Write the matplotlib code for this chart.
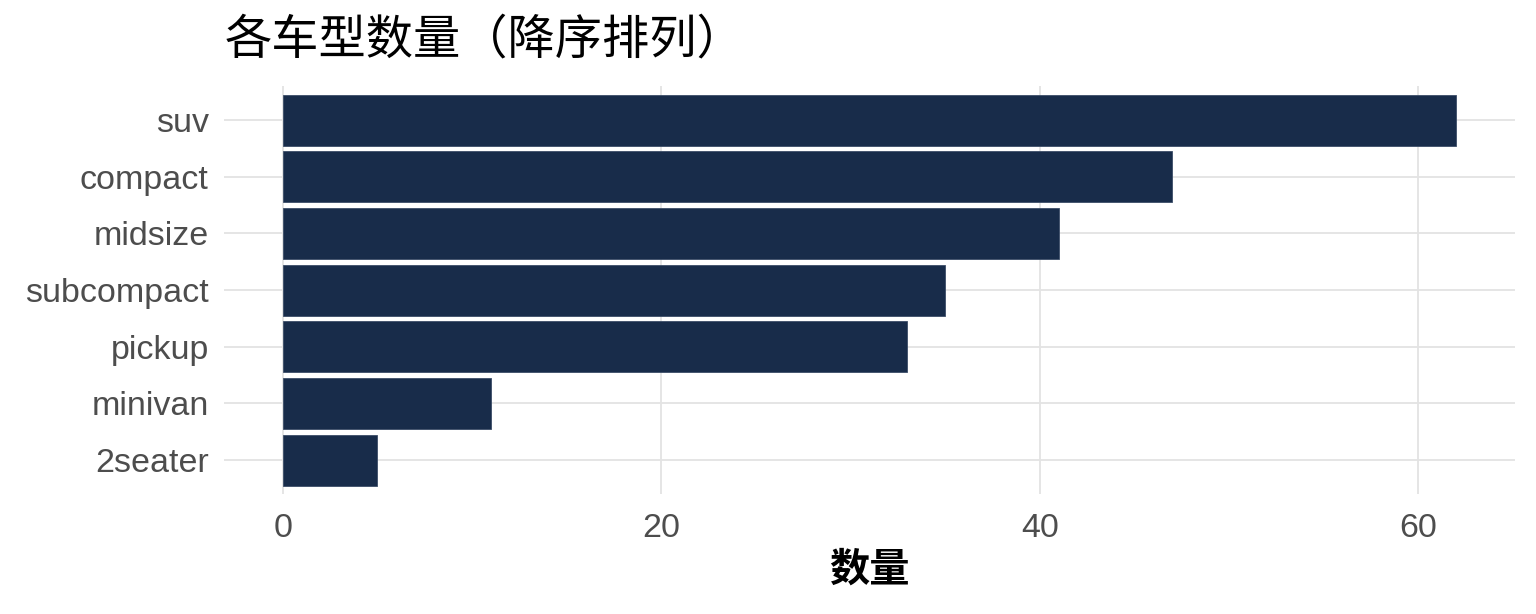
import matplotlib
matplotlib.use('Agg')
import matplotlib.pyplot as plt

plt.rcParams['font.family'] = ['Liberation Sans', 'Noto Sans CJK SC', 'DejaVu Sans']

classes = ['suv', 'compact', 'midsize', 'subcompact', 'pickup', 'minivan', '2seater']
counts = [62, 47, 41, 35, 33, 11, 5]
xticks = [0, 20, 40, 60]

W, H = 1536, 614
fig = plt.figure(figsize=(W / 100, H / 100), dpi=100)
ax = fig.add_axes([224 / W, 1 - 494 / H, (1515 - 224) / W, (494 - 86) / H])

ypos = list(range(len(classes)))
ax.barh(ypos, counts, height=0.9, color='#182c4a', edgecolor='#3b4d68', linewidth=0.6, zorder=2)

xmax = max(counts)
ax.set_xlim(-0.05 * xmax, 1.05 * xmax)
ax.set_ylim(len(classes) - 0.4, -0.6)
ax.set_yticks(ypos)
ax.set_yticklabels(classes)
ax.set_xticks(xticks)

ax.grid(True, color='#e3e3e3', linewidth=1.3, zorder=0)
ax.set_axisbelow(True)
for sp in ax.spines.values():
    sp.set_visible(False)
ax.tick_params(length=0, labelsize=24.5, labelcolor='#4d4d4d')
ax.tick_params(axis='x', pad=14)
ax.tick_params(axis='y', pad=11)

ax.set_xlabel('数量', fontsize=29, fontweight='bold', family=['Noto Sans CJK SC', 'DejaVu Sans'], labelpad=4)
fig.text(225 / W, 1 - 40 / H, '各车型数量（降序排列）', fontsize=34, va='center', ha='left',
         family=['Noto Sans CJK SC', 'DejaVu Sans'])

fig.savefig('out.png', dpi=100)
